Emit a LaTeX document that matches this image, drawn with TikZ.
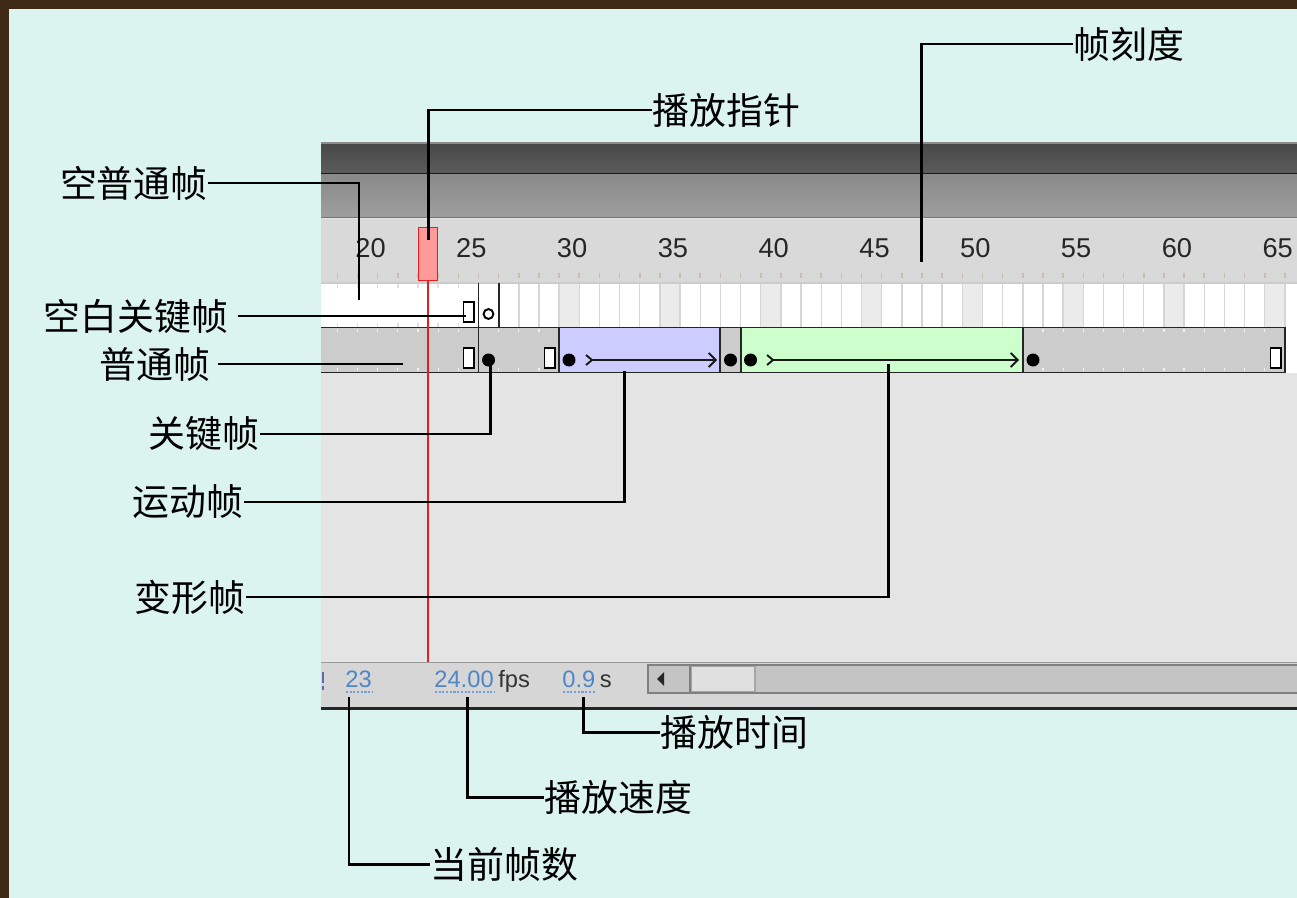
\documentclass[tikz,border=0pt]{standalone}
\usepackage{fontspec}
\setmainfont{Liberation Sans}
\newfontfamily\cjk{Noto Sans CJK SC}
\usetikzlibrary{arrows.meta}
\definecolor{bgc}{HTML}{DCF4F0}
\definecolor{frame}{HTML}{3F2A17}
\definecolor{panel}{HTML}{E4E4E4}
\definecolor{ruler}{HTML}{D9D9D9}
\definecolor{rowgray}{HTML}{CCCCCC}
\definecolor{tweenblue}{HTML}{CCCCFF}
\definecolor{tweengreen}{HTML}{CCFFCC}
\definecolor{cellshade}{HTML}{EBEBEB}
\definecolor{cellline}{HTML}{D6D6D6}
\definecolor{tickc}{HTML}{C8C0A0}
\definecolor{phfill}{HTML}{FF9A9A}
\definecolor{phred}{HTML}{E02020}
\definecolor{stblue}{HTML}{4F86C6}
\definecolor{stbar}{HTML}{D6D6D6}
\definecolor{track}{HTML}{C4C4C4}
\tikzset{
  lab/.style={font=\cjk\fontsize{21}{24}\selectfont, inner sep=0pt, text=black},
  lead/.style={line width=1.7pt, black},
  sep/.style={line width=1.1pt, black!85},
  rnum/.style={font=\fontsize{15.5}{17}\selectfont, text=black!85, inner sep=0pt},
  stnum/.style={font=\fontsize{13.5}{15}\selectfont, text=stblue, inner sep=0pt},
  sttxt/.style={font=\fontsize{13.5}{15}\selectfont, text=black!80, inner sep=0pt},
  dotline/.style={stblue!80, line width=1.2pt, dash pattern=on 1.2pt off 0.9pt},
  hollow/.style={draw=black, fill=white, line width=1.1pt},
  kdot/.style={fill=black},
  tween/.style={line width=1.1pt, black!90},
}
\begin{document}
\begin{tikzpicture}[x=0.02cm,y=-0.02cm]
\useasboundingbox (0,0) rectangle (1297,898);
% background and frame
\fill[bgc] (0,0) rectangle (1297,898);
\fill[frame] (0,0) rectangle (1297,9);
\fill[frame] (0,0) rectangle (9,898);

% ---- timeline panel ----
\fill[panel] (321,143) rectangle (1297,708);
% dark top bar
\shade[top color=black!72, bottom color=black!64] (321,143) rectangle (1297,173);
\draw[black!45, line width=0.6pt] (321,143) -- (1297,143);
\draw[black!90, line width=1pt] (321,173.5) -- (1297,173.5);
% medium bar
\shade[top color=black!46, bottom color=black!38] (321,174.5) rectangle (1297,217);
\draw[black!55, line width=0.8pt] (321,217.5) -- (1297,217.5);
% ruler
\fill[ruler] (321,219) rectangle (1297,283);
\draw[black!20, line width=0.8pt] (321,283) -- (1297,283);
\foreach \k in {-4,...,43} {
  \draw[tickc, line width=0.9pt] ({418+\k*20.16},273) -- ++(0,5);
}
\foreach \n in {20,25,...,65} {
  \node[rnum] (r\n) at ({370.5+(\n-20)*20.16},248) {\n};
}

% row 1
\fill[white] (321,284) rectangle (1297,327);
\foreach \k in {7,12,...,42} {
  \fill[cellshade] ({418+\k*20.16},284) rectangle ({418+(\k+1)*20.16},327);
}
\foreach \k in {5,...,44} {
  \draw[cellline, line width=0.8pt] ({418+\k*20.16},284) -- ++(0,43);
}
\foreach \k in {-4,...,3} {
  \draw[black!12, line width=0.8pt] ({418+\k*20.16},284) -- ++(0,4);
  \draw[black!12, line width=0.8pt] ({418+\k*20.16},323) -- ++(0,4);
}
\draw[sep] (498.6,283) -- (498.6,327);
\draw[hollow] (463.5,302) rectangle (474,322);
\draw[black, line width=1.1pt] (488.5,314) circle[radius=2.8pt];

% row 2
\fill[rowgray] (321,327) rectangle (1285,373);
\fill[tweenblue] (559.1,327) rectangle (720.4,373);
\fill[tweengreen] (740.6,327) rectangle (1022.8,373);
\fill[white] (1285,327) rectangle (1297,373);
\foreach \k in {-4,...,42} {
  \draw[white!70!rowgray, line width=0.7pt] ({418+\k*20.16},329) -- ++(0,3);
  \draw[white!70!rowgray, line width=0.7pt] ({418+\k*20.16},368) -- ++(0,3);
}
\fill[tweenblue] (560,328) rectangle (719.5,372);
\fill[tweengreen] (741.5,328) rectangle (1022,372);
\draw[sep] (321,327.5) -- (1285,327.5);
\draw[sep] (321,372.5) -- (1285,372.5);
\draw[sep] (478.5,283) -- (478.5,373);
\foreach \x in {559.1,720.4,740.6,1022.8,1285} {
  \draw[sep] (\x,327) -- (\x,373);
}
\draw[hollow] (463.5,348) rectangle (474,368);
\draw[hollow] (544.5,348) rectangle (555,368);
\draw[hollow] (1270.5,348) rectangle (1281,368);
\foreach \x in {488.5,569,730.5,750.5,1033} {
  \fill[kdot] (\x,360) circle[radius=3.7pt];
}
% tween arrows
\draw[tween] (586,355) -- (592,360) -- (586,365);
\draw[tween, -{Straight Barb[length=4pt,width=8pt]}] (592,360) -- (717,360);
\draw[tween] (767,355) -- (773,360) -- (767,365);
\draw[tween, -{Straight Barb[length=4pt,width=8pt]}] (773,360) -- (1019,360);

% playhead
\draw[phred, line width=1.3pt] (428,281) -- (428,662);
\draw[phred, fill=phfill, line width=1.1pt] (418.5,227.5) rectangle (437.5,280.5);

% status bar
\fill[stbar] (321,663) rectangle (1297,708);
\draw[black!40, line width=0.8pt] (321,662.5) -- (1297,662.5);
\draw[black!85, line width=1.4pt] (321,708.5) -- (1297,708.5);
\fill[black!50!blue!60] (321.5,672) rectangle (324,683);
\fill[black!50!blue!60] (321.5,686) rectangle (324,690);
\node[stnum, anchor=base west] (cur) at (345,687) {23};
\draw[dotline] (346,692) -- (372,692);
\node[stnum, anchor=base west] (fps) at (434,687) {24.00};
\node[sttxt, anchor=base west] (fpsu) at (fps.base east) {\,fps};
\draw[dotline] (435,692) -- (495,692);
\node[stnum, anchor=base west] (tim) at (562,687) {0.9};
\node[sttxt, anchor=base west] (timu) at (tim.base east) {\,s};
\draw[dotline] (563,692) -- (596,692);
% scrollbar
\draw[black!50, fill=track, line width=1.1pt] (648,665) rectangle (1300,693);
\draw[black!50, line width=1.1pt] (690,665) -- (690,693);
\draw[black!35, fill=black!12, line width=0.9pt] (691.5,666.5) rectangle (755,691.5);
\fill[black!85] (657,679) -- (664,672) -- (664,686) -- cycle;

% ---- labels and leaders ----
\coordinate (tkd) at (921,262);
\coordinate (tph) at (428,240);
\coordinate (tkp) at (359,300);
\coordinate (tkb) at (466,316);
\coordinate (tpt) at (403,364);
\coordinate (tgj) at (490,362);
\coordinate (tyd) at (624,371);
\coordinate (tbx) at (888,364);
\coordinate (tsj) at (583,697);
\coordinate (tsd) at (467,697);
\coordinate (tdq) at (349,697);

\node[lab, anchor=west] (lkd) at (1073,44) {帧刻度};
\node[lab, anchor=west] (lph) at (652,110) {播放指针};
\node[lab, anchor=east] (lkp) at (208,183) {空普通帧};
\node[lab, anchor=east, outer xsep=5.5pt] (lkb) at (238,316) {空白关键帧};
\node[lab, anchor=east, outer xsep=4.5pt] (lpt) at (218,364) {普通帧};
\node[lab, anchor=east] (lgj) at (260,434) {关键帧};
\node[lab, anchor=east] (lyd) at (244,502) {运动帧};
\node[lab, anchor=east] (lbx) at (246,597) {变形帧};
\node[lab, anchor=west] (lsj) at (660,732) {播放时间};
\node[lab, anchor=west] (lsd) at (544,797) {播放速度};
\node[lab, anchor=west] (ldq) at (430,864) {当前帧数};

\draw[lead] (lkd.west) -| (tkd);
\draw[lead] (lph.west) -| (tph);
\draw[lead] (lkp.east) -| (tkp);
\draw[lead] (lkb.east) -- (tkb);
\draw[lead] (lpt.east) -- (tpt);
\draw[lead] (lgj.east) -| (tgj);
\draw[lead] (lyd.east) -| (tyd);
\draw[lead] (lbx.east) -| (tbx);
\draw[lead] (tsj) |- (lsj.west);
\draw[lead] (tsd) |- (lsd.west);
\draw[lead] (tdq) |- (ldq.west);
\end{tikzpicture}
\end{document}
